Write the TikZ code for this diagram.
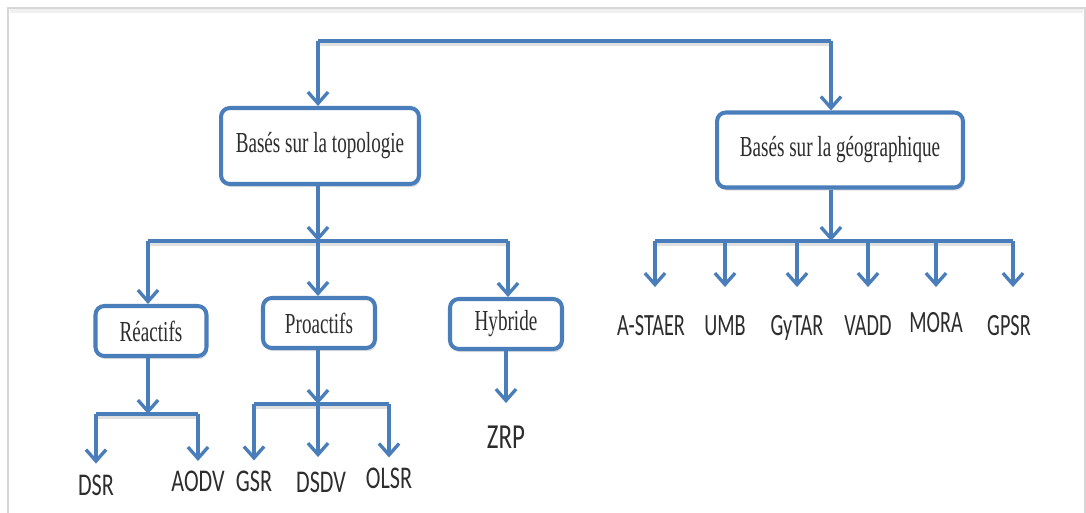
\documentclass[tikz,border=0pt]{standalone}
\usepackage{fontspec}
\setmainfont{Liberation Serif}
\newfontfamily\labelfont{Carlito}
\usetikzlibrary{arrows.meta,shadows}
\definecolor{lineblue}{RGB}{74,126,187}
\definecolor{inkgray}{RGB}{45,45,45}
\definecolor{framegray}{RGB}{215,215,215}

\begin{document}
\begin{tikzpicture}[x=0.02cm,y=-0.02cm,
  boxst/.style={draw=lineblue, line width=2.3pt, rounded corners=5pt, fill=white,
    inner sep=0pt, text=inkgray, font=\fontsize{16.5}{19}\selectfont,
    drop shadow={opacity=0.25, shadow xshift=0.8pt, shadow yshift=-1.8pt}},
  leaf/.style={text=inkgray, inner sep=0pt, text depth=0pt, anchor=north},
  leafL/.style={leaf, font=\labelfont\fontsize{18}{21}\selectfont, text height=11.6pt},
  leafR/.style={leaf, font=\labelfont\fontsize{17.6}{21}\selectfont, text height=11.3pt},
  leafZ/.style={leaf, font=\labelfont\fontsize{20}{24}\selectfont, text height=12.9pt},
  bar/.style={draw=lineblue, line width=2.8pt,
    preaction={draw=black!12, line width=3pt, transform canvas={yshift=-1.6pt}}},
  arr/.style={draw=lineblue, line width=1.9pt,
    -{Straight Barb[length=6.5pt,width=11.5pt,line width=1.9pt]}},
]
% page and its light frame
\useasboundingbox (0,0) rectangle (1086,513);
\fill[white] (0,0) rectangle (1086,513);
\draw[framegray, line width=1.4pt] (8,513) -- (8,8) -- (1085,8) -- (1085,513);
\draw[black!6, line width=2pt] (10,11) -- (1083,11);

% category boxes
\node[boxst, minimum width=3.96cm, minimum height=1.52cm] (topo) at (320,146)
  {\scalebox{0.66}[1]{Basés sur la topologie}};
\node[boxst, minimum width=4.92cm, minimum height=1.5cm] (geo) at (840,150)
  {\scalebox{0.66}[1]{Basés sur la géographique}};
\node[boxst, minimum width=2.22cm, minimum height=1.0cm] (react) at (151,331)
  {\scalebox{0.66}[1]{Réactifs}};
\node[boxst, minimum width=2.24cm, minimum height=1.0cm] (proact) at (319,323)
  {\scalebox{0.66}[1]{Proactifs}};
\node[boxst, minimum width=2.24cm, minimum height=1.0cm] (hyb) at (506,324)
  {\scalebox{0.66}[1]{Hybride}};

% protocol names
\node[leafL] (dsr)  at (96,475)  {\scalebox{0.7}[1]{DSR}};
\node[leafL] (aodv) at (198,471) {\scalebox{0.7}[1]{AODV}};
\node[leafL] (gsr)  at (254,471) {\scalebox{0.7}[1]{GSR}};
\node[leafL] (dsdv) at (321,472) {\scalebox{0.7}[1]{DSDV}};
\node[leafL] (olsr) at (389,468) {\scalebox{0.7}[1]{OLSR}};
\node[leafZ] (zrp)  at (506,425) {\scalebox{0.71}[1]{ZRP}};

\node[leafR] (astaer) at (651,315) {\scalebox{0.655}[1]{A-STAER}};
\node[leafR] (umb)    at (725,315) {\scalebox{0.655}[1]{UMB}};
\node[leafR] (gytar)  at (797,315) {\scalebox{0.655}[1]{GyTAR}};
\node[leafR] (vadd)   at (868,315) {\scalebox{0.655}[1]{VADD}};
\node[leafR] (mora)   at (936,312) {\scalebox{0.655}[1]{MORA}};
\node[leafR] (gpsr)   at (1009,315) {\scalebox{0.655}[1]{GPSR}};

% junction points of the bars
\coordinate (tl) at (318,41);
\coordinate (tr) at (831,41);
\coordinate (jt) at (318,241);
\coordinate (jg) at (831,241);
\coordinate (jr) at (148,414);
\coordinate (jp) at (318,404);
\coordinate (jtl) at (148,241);
\coordinate (jtr) at (508,241);
\coordinate (ga) at (655,241);
\coordinate (gb) at (1013,241);

% root bar
\draw[bar] (tl) -- (tr);
\draw[arr] (tl) -- (tl |- topo.north);
\draw[arr] (tr) -- (tr |- geo.north);

% topology branch
\draw[arr] (jt |- topo.south) -- (jt);
\draw[bar] (jtl) -- (jtr);
\draw[arr] (jtl) -- (jtl |- react.north);
\draw[arr] (jt) -- (proact.north -| jt);
\draw[arr] (jtr) -- (jtr |- hyb.north);

% reactive protocols
\draw[arr] (jr |- react.south) -- (jr);
\draw[bar] (jr -| dsr) -- (jr -| aodv);
\draw[arr, shorten >=6.5pt] (jr -| dsr) -- (dsr.north);
\draw[arr, shorten >=5.7pt] (jr -| aodv) -- (aodv.north);

% proactive protocols
\draw[arr] (jp |- proact.south) -- (jp);
\draw[bar] (jp -| gsr) -- (jp -| olsr);
\draw[arr, shorten >=6pt] (jp -| gsr) -- (gsr.north);
\draw[arr, shorten >=8.5pt] (jp) -- (jp |- dsdv.north);
\draw[arr, shorten >=6pt] (jp -| olsr) -- (olsr.north);

% hybrid protocol
\draw[arr, shorten >=12.5pt] (hyb.south) -- (zrp.north);

% geographic protocols
\draw[arr] (jg |- geo.south) -- (jg);
\draw[bar] (ga) -- (gb);
\draw[arr, shorten >=15.9pt] (ga) -- (ga |- astaer.north);
\draw[arr, shorten >=15.9pt] (jg -| umb) -- (umb.north);
\draw[arr, shorten >=15.9pt] (jg -| gytar) -- (gytar.north);
\draw[arr, shorten >=15.9pt] (jg -| vadd) -- (vadd.north);
\draw[arr, shorten >=14.2pt] (jg -| mora) -- (mora.north);
\draw[arr, shorten >=15.9pt] (gb) -- (gb |- gpsr.north);
\end{tikzpicture}
\end{document}
